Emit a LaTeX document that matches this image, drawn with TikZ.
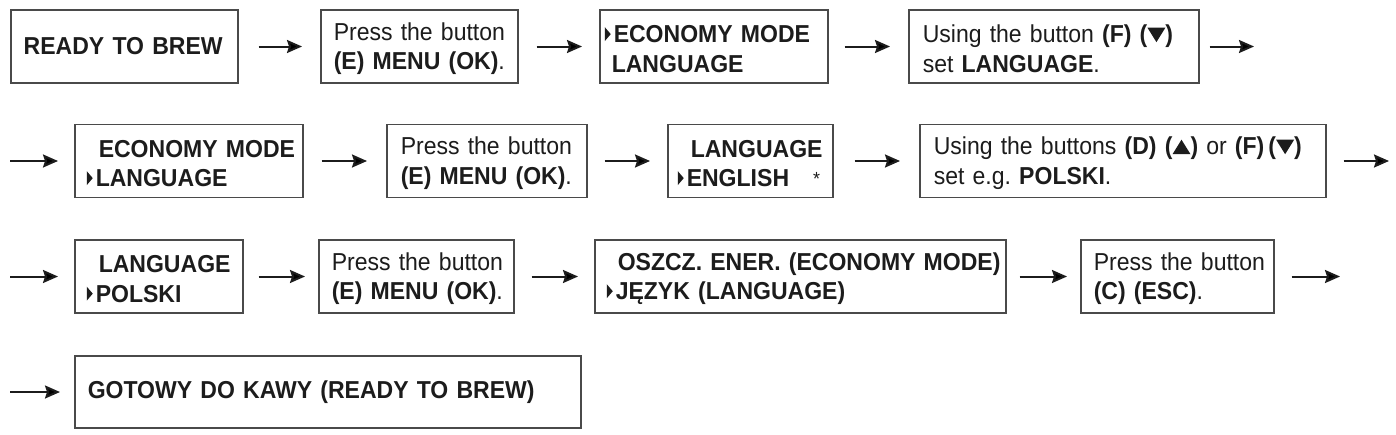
\documentclass[tikz,border=0pt]{standalone}
\usepackage{fontspec}
\setmainfont{Liberation Sans}[FakeStretch=0.94]
\usetikzlibrary{arrows.meta}
\frenchspacing
\definecolor{txt}{HTML}{1C1C1C}
\definecolor{boxc}{HTML}{4A4A4A}
\newcommand{\ptr}{\tikz[baseline=0pt]\fill[txt] (0pt,1.5pt)--(0pt,15.5pt)--(6pt,8.5pt)--cycle;\hspace{3pt}}
\newcommand{\pd}[1]{\hspace*{#1pt}}
\newcommand{\tl}{\rule{0pt}{22pt}}
\newcommand{\dn}{\tikz[baseline=0pt]\fill[txt] (0pt,15pt)--(18pt,15pt)--(9pt,0.5pt)--cycle;}
\newcommand{\up}{\tikz[baseline=0pt]\fill[txt] (0pt,0.5pt)--(18pt,0.5pt)--(9pt,15pt)--cycle;}
\tikzset{
  box/.style={draw=boxc, line width=1.5pt, fill=white, inner xsep=0pt, inner ysep=0pt,
    minimum height=73pt, align=left, anchor=west, text=txt,
    font=\fontsize{24.5}{29.5}\selectfont},
  arr/.style={draw=txt, line width=2pt, -{Stealth[length=15pt,width=13pt,inset=2pt]}}
}
\begin{document}
\begin{tikzpicture}[x=1pt,y=-1pt]
\useasboundingbox (0,0) rectangle (1396,434);
% row 1
\node[box, text width=227pt] (b1) at (10,46.5) {\pd{13}\bfseries READY TO BREW};
\node[box, text width=197pt] (b2) at (320,46.5) {\tl\pd{13}Press the button\\\pd{13}\textbf{(E) MENU (OK)}.};
\node[box, text width=228pt] (b3) at (599,46.5) {\tl\bfseries\pd{5}\ptr ECONOMY MODE\\\bfseries\pd{12}LANGUAGE};
\node[box, text width=290pt] (b4) at (908,46.5) {\tl\pd{14}Using the button \textbf{(F) (\dn)}\\\pd{14}set \textbf{LANGUAGE}.};
\coordinate (e1) at (1254,46.5);
% row 2
\coordinate (s2) at (10,161);
\node[box, text width=228pt] (b5) at (74,161) {\tl\bfseries\pd{24}ECONOMY MODE\\\bfseries\pd{12}\ptr LANGUAGE};
\node[box, text width=200pt] (b6) at (386,161) {\tl\pd{14}Press the button\\\pd{14}\textbf{(E) MENU (OK)}.};
\node[box, text width=165pt] (b7) at (667,161) {\tl\bfseries\pd{23}LANGUAGE\\\bfseries\pd{10}\ptr ENGLISH\hspace{24pt}\raisebox{1pt}{\mdseries\fontsize{19}{19}\selectfont *}};
\node[box, text width=406pt] (b8) at (919,161) {\tl\pd{14}Using the buttons \textbf{(D) (\up)} or \textbf{(F)\,(\dn)}\\\pd{14}set e.g. \textbf{POLSKI}.};
\coordinate (e2) at (1389,161);
% row 3
\coordinate (s3) at (10,276.5);
\node[box, text width=168pt] (b9) at (74,276.5) {\tl\bfseries\pd{24}LANGUAGE\\\bfseries\pd{12}\ptr POLSKI};
\node[box, text width=195pt] (b10) at (318,276.5) {\tl\pd{13}Press the button\\\pd{13}\textbf{(E) MENU (OK)}.};
\node[box, text width=411pt] (b11) at (594,276.5) {\tl\bfseries\pd{23}OSZCZ. ENER. (ECONOMY MODE)\\\bfseries\pd{12}\ptr JĘZYK (LANGUAGE)};
\node[box, text width=193pt] (b12) at (1080,276.5) {\tl\pd{13}Press the button\\\pd{13}\textbf{(C) (ESC)}.};
\coordinate (e3) at (1340,276.5);
% row 4
\coordinate (s4) at (10,392);
\node[box, text width=506pt, minimum height=72pt] (b13) at (74,392) {\pd{13}\bfseries GOTOWY DO KAWY (READY TO BREW)};
% arrows
\draw[arr, shorten <=20pt, shorten >=18pt] (b1) -- (b2);
\draw[arr, shorten <=18pt, shorten >=17pt] (b2) -- (b3);
\draw[arr, shorten <=16pt, shorten >=18pt] (b3) -- (b4);
\draw[arr, shorten <=10pt] (b4) -- (e1);
\draw[arr, shorten >=16pt] (s2) -- (b5);
\draw[arr, shorten <=18pt, shorten >=19pt] (b5) -- (b6);
\draw[arr, shorten <=17pt, shorten >=17pt] (b6) -- (b7);
\draw[arr, shorten <=21pt, shorten >=19pt] (b7) -- (b8);
\draw[arr, shorten <=17pt] (b8) -- (e2);
\draw[arr, shorten >=16pt] (s3) -- (b9);
\draw[arr, shorten <=15pt, shorten >=13pt] (b9) -- (b10);
\draw[arr, shorten <=17pt, shorten >=16pt] (b10) -- (b11);
\draw[arr, shorten <=13pt, shorten >=13pt] (b11) -- (b12);
\draw[arr, shorten <=17pt] (b12) -- (e3);
\draw[arr, shorten >=14pt] (s4) -- (b13);
\end{tikzpicture}
\end{document}
